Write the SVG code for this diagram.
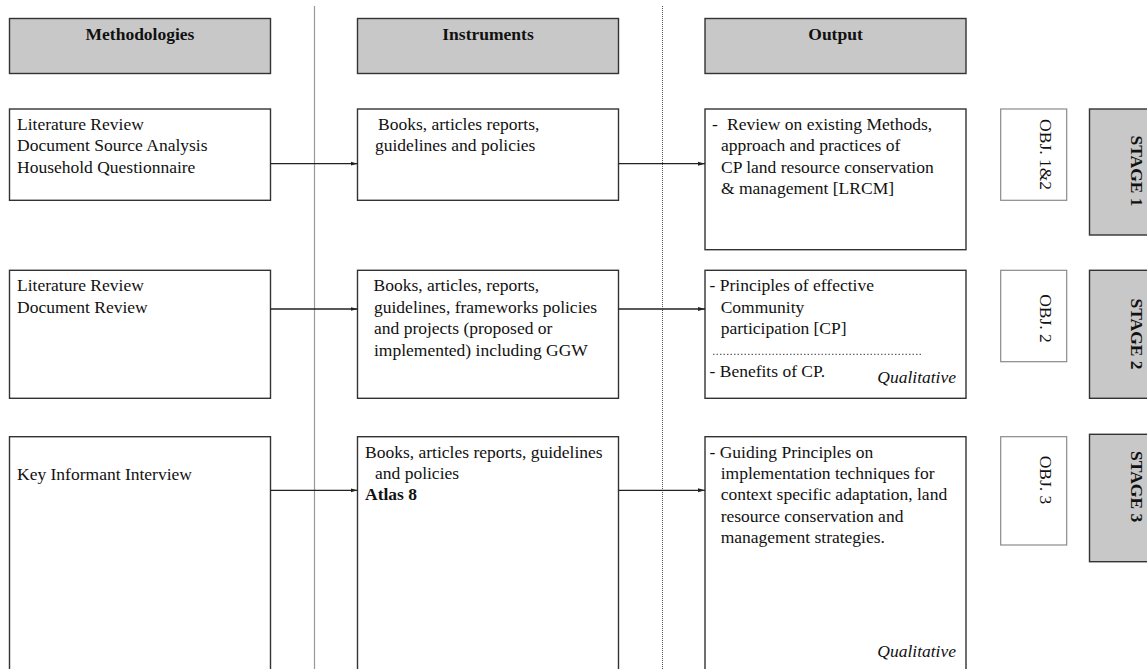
<svg xmlns="http://www.w3.org/2000/svg" width="1147" height="669" viewBox="0 0 1147 669">
<style>
text{font-family:"Liberation Serif","Times New Roman",serif;font-size:17.5px;fill:#111}
.b{font-weight:bold}
.i{font-style:italic}
.hdr{fill:#c8c8c8;stroke:#333;stroke-width:1.4}
.box{fill:#fff;stroke:#333;stroke-width:1.4}
.obj{fill:#fff;stroke:#8a8a8a;stroke-width:1.2}
.stage{fill:#c8c8c8;stroke:#333;stroke-width:1.4}
.conn{stroke:#222;stroke-width:1.3;fill:none;marker-end:url(#ah)}
</style>
<defs>
<marker id="ah" markerWidth="8" markerHeight="6" refX="7" refY="3" orient="auto" markerUnits="userSpaceOnUse">
<path d="M0,1 L7,3 L0,5 Z" fill="#222"/>
</marker>
</defs>
<rect width="1147" height="669" fill="#fff"/>
<g id="dividers">
<line x1="314.5" y1="6" x2="314.5" y2="669" stroke="#999" stroke-width="1.2"/>
<line x1="662.5" y1="6" x2="662.5" y2="669" stroke="#555" stroke-width="1" stroke-dasharray="1,1"/>
</g>
<g id="hdr-methodologies"><rect class="hdr" x="9.5" y="18.5" width="261" height="55"/><text class="b" x="140" y="40" text-anchor="middle">Methodologies</text></g>
<g id="hdr-instruments"><rect class="hdr" x="357.5" y="18.5" width="261" height="55"/><text class="b" x="488" y="40" text-anchor="middle">Instruments</text></g>
<g id="hdr-output"><rect class="hdr" x="705" y="18.5" width="261" height="55"/><text class="b" x="835.5" y="40" text-anchor="middle">Output</text></g>

<g id="m1"><rect class="box" x="9.5" y="109" width="261" height="91.3"/>
<text x="17" y="129.5">Literature Review</text><text x="17" y="151">Document Source Analysis</text><text x="17" y="172.5">Household Questionnaire</text></g>
<g id="i1"><rect class="box" x="357.5" y="109" width="261" height="91.3"/>
<text x="378" y="129.5">Books, articles reports,</text><text x="375" y="151">guidelines and policies</text></g>
<g id="o1"><rect class="box" x="705" y="109" width="261" height="140.7"/>
<text x="712" y="129.5">-</text><text x="727" y="129.5">Review on existing Methods,</text><text x="721" y="151">approach and practices of</text><text x="721" y="172.5">CP land resource conservation</text><text x="721" y="194">&amp; management [LRCM]</text></g>
<g id="obj1"><rect class="obj" x="1000.7" y="109" width="66" height="91.3"/><text transform="translate(1039.5,154.6) rotate(90)" text-anchor="middle">OBJ. 1&amp;2</text></g>
<g id="stage1"><rect class="stage" x="1089.5" y="109" width="70" height="126"/><text class="b" transform="translate(1131,171) rotate(90)" text-anchor="middle">STAGE 1</text></g>

<g id="m2"><rect class="box" x="9.5" y="270.3" width="261" height="128"/>
<text x="17" y="291">Literature Review</text><text x="17" y="312.5">Document Review</text></g>
<g id="i2"><rect class="box" x="357.5" y="270.3" width="261" height="128"/>
<text x="373.5" y="291">Books, articles, reports,</text><text x="374" y="312.5">guidelines, frameworks policies</text><text x="374" y="334">and projects (proposed or</text><text x="374" y="355.5">implemented) including GGW</text></g>
<g id="o2"><rect class="box" x="705" y="270.3" width="261" height="128"/>
<text x="709.5" y="291">- Principles of effective</text><text x="720.7" y="312.5">Community</text><text x="720.7" y="334">participation [CP]</text>
<line x1="713" y1="354.3" x2="923" y2="354.3" stroke="#444" stroke-width="1" stroke-dasharray="1.5,2"/>
<text x="709.5" y="376.5">- Benefits of CP.</text><text class="i" x="956" y="383" text-anchor="end">Qualitative</text></g>
<g id="obj2"><rect class="obj" x="1000.7" y="270.3" width="66" height="91.4"/><text transform="translate(1039.5,318.5) rotate(90)" text-anchor="middle">OBJ. 2</text></g>
<g id="stage2"><rect class="stage" x="1089.5" y="270.3" width="70" height="128"/><text class="b" transform="translate(1131,334) rotate(90)" text-anchor="middle">STAGE 2</text></g>

<g id="m3"><rect class="box" x="9.5" y="436.7" width="261" height="245"/>
<text x="17" y="480">Key Informant Interview</text></g>
<g id="i3"><rect class="box" x="357.5" y="436.7" width="261" height="245"/>
<text x="365" y="457.7">Books, articles reports, guidelines</text><text x="375" y="479">and policies</text><text class="b" x="365" y="500.3">Atlas 8</text></g>
<g id="o3"><rect class="box" x="705" y="436.7" width="261" height="245"/>
<text x="709.5" y="457.7">- Guiding Principles on</text><text x="720.7" y="479">implementation techniques for</text><text x="720.7" y="500.3">context specific adaptation, land</text><text x="720.7" y="521.7">resource conservation and</text><text x="720.7" y="543">management strategies.</text>
<text class="i" x="956" y="657" text-anchor="end">Qualitative</text></g>
<g id="obj3"><rect class="obj" x="1000.7" y="436.7" width="66" height="108.3"/><text transform="translate(1039.5,480) rotate(90)" text-anchor="middle">OBJ. 3</text></g>
<g id="stage3"><rect class="stage" x="1089.5" y="434.3" width="70" height="127.4"/><text class="b" transform="translate(1131,486.7) rotate(90)" text-anchor="middle">STAGE 3</text></g>

<g id="connectors">
<line class="conn" x1="270.5" y1="163.7" x2="357.5" y2="163.7"/>
<line class="conn" x1="618.5" y1="163.7" x2="705" y2="163.7"/>
<line class="conn" x1="270.5" y1="309" x2="357.5" y2="309"/>
<line class="conn" x1="618.5" y1="309" x2="705" y2="309"/>
<line class="conn" x1="270.5" y1="490.3" x2="357.5" y2="490.3"/>
<line class="conn" x1="618.5" y1="490.3" x2="705" y2="490.3"/>
</g>
</svg>
